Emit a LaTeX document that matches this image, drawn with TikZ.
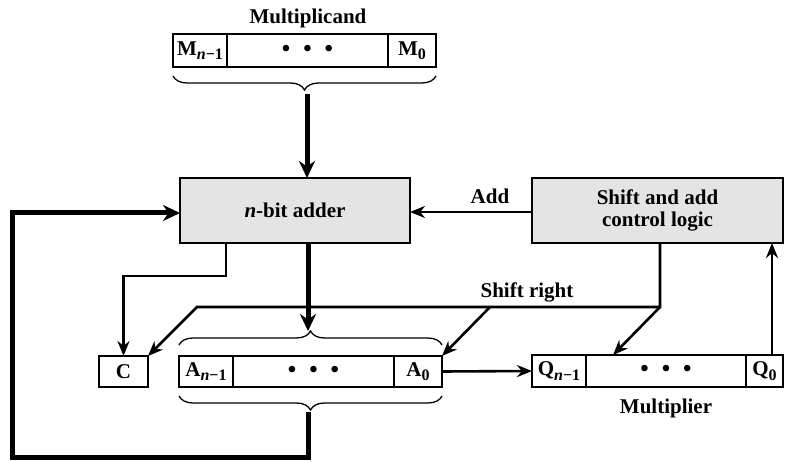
\documentclass[tikz,border=0pt]{standalone}
\usepackage{fontspec}
\setmainfont{Liberation Serif}
\usetikzlibrary{arrows.meta,decorations.pathreplacing}
\definecolor{boxgray}{RGB}{228,228,228}
\newcommand{\sbn}{\raisebox{-4.5pt}{\fontsize{16}{16}\selectfont\itshape n\upshape −1}}
\newcommand{\sbz}{\raisebox{-4.5pt}{\fontsize{16}{16}\selectfont 0}}
\newcommand{\tdots}{{\fontsize{24}{24}\selectfont •\hspace{13pt}•\hspace{13pt}•}}
\begin{document}
\begin{tikzpicture}[x=1pt,y=-1pt,
  font=\fontsize{21}{24}\selectfont\bfseries,
  every node/.style={inner sep=0pt,outer sep=0pt},
  cell/.style={draw,line width=1.4pt,minimum height=33,anchor=center},
  bigbox/.style={draw,line width=1.4pt,fill=boxgray,minimum width=230,minimum height=65,align=center},
  arr/.style={line width=2.6pt,-{Stealth[length=15pt,width=12pt]}},
  thickarr/.style={line width=5pt,-{Stealth[length=17pt,width=16pt]}},
  bracestyle/.style={line width=1.3pt,decorate,decoration={brace,amplitude=14pt}}]
\useasboundingbox (0,0) rectangle (790,462);
% labels
\node (lmcand) at (308,18) {Multiplicand};
\node (lmplier) at (666,408) {Multiplier};
% multiplicand register
\node[cell,minimum width=54] (Mn1) at (200,50.5) {M\sbn};
\node[cell,minimum width=161] (Mdots) at (307.5,50.5) {\tdots};
\node[cell,minimum width=48] (M0) at (412,50.5) {M\sbz};
% adder and control
\node[bigbox] (adder) at (295,210.5) {\textit{n}-bit adder};
\node[bigbox,minimum width=251] (control) at (657.5,210.5) {Shift and add\\[-2pt]control logic};
% C and A register
\node[cell,minimum width=49,minimum height=31] (C) at (123.5,371.5) {C};
\node[cell,minimum width=54,minimum height=31] (An1) at (206,371.5) {A\sbn};
\node[cell,minimum width=161,minimum height=31] (Adots) at (313.5,371.5) {\tdots};
\node[cell,minimum width=48,minimum height=31] (A0) at (418,371.5) {A\sbz};
% Q register
\node[cell,minimum width=54,minimum height=32] (Qn1) at (559,371) {Q\sbn};
\node[cell,minimum width=160,minimum height=32] (Qdots) at (666,371) {\tdots};
\node[cell,minimum width=37,minimum height=32] (Q0) at (764.5,371) {Q\sbz};
% braces
\draw[bracestyle] (436,76) -- (173,76);
\draw[bracestyle] (179,345) -- (442,345);
\draw[bracestyle] (442,396) -- (179,396);
\coordinate (mtip) at (307,94);
\coordinate (atop) at (308,331);
\coordinate (abot) at (308,412);
% connectors
\draw[thickarr] (mtip) -- (adder.north -| mtip);
\draw[arr] (control.west |- 0,212) -- (adder.east |- 0,212);
\node (ladd) at (490,196) {Add};
\draw[thickarr] (abot) -- (308,457) -- (12,457) -- (12,213) -- (adder.west |- 0,213);
\coordinate (ac) at (226,276);
\draw[arr] (adder.south -| ac) -- (ac) -| (C.north);
\draw[thickarr] (adder.south -| atop) -- (atop);
\coordinate (sr) at (660,307);
\coordinate (srl) at (197,307);
\coordinate (srm) at (490,307);
\coordinate (qin) at (613,355);
\draw[arr] (control.south -| sr) -- (sr) -- (srl) -- (C.north east);
\draw[arr] (srm) -- (A0.north east);
\draw[arr] (sr) -- (qin);
\node (lsr) at (527,292) {Shift right};
\draw[arr] (A0.east) -- (Qn1.west);
\coordinate (qc) at (772,355);
\draw[arr] (qc) -- (control.south -| qc);
\end{tikzpicture}
\end{document}
